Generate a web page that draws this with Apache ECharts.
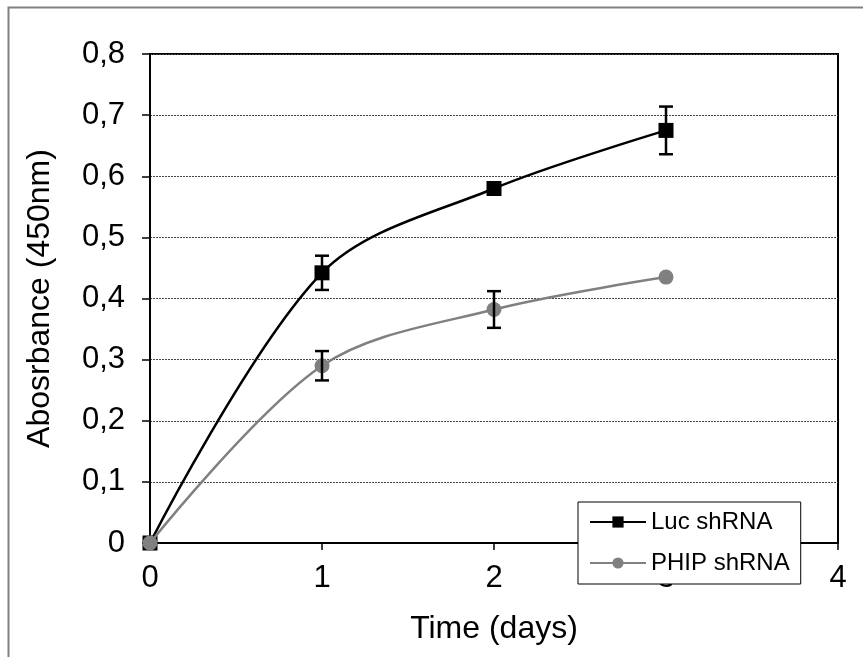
<!DOCTYPE html>
<html>
<head>
<meta charset="utf-8">
<script src="https://cdn.jsdelivr.net/npm/echarts@6/dist/echarts.min.js"></script>
<style>
  html, body { margin: 0; padding: 0; background: #fff; }
  #chart { width: 863px; height: 657px; }
</style>
</head>
<body>
<div id="chart"></div>
<script>
// Time points (days) and mean absorbance at 450 nm
const days = [0, 1, 2, 3];
const lucMean = [0, 0.442, 0.580, 0.675];
const lucErr = [0, 0.028, 0, 0.039];
const phipMean = [0, 0.290, 0.382, 0.435];
const phipErr = [0, 0.024, 0.030, 0];
const xTicks = [0, 1, 2, 3, 4];
const yTicks = [0, 0.1, 0.2, 0.3, 0.4, 0.5, 0.6, 0.7, 0.8];

const FONT = '"Liberation Sans", Arial, sans-serif';

function pairs(xs, ys) { return xs.map((x, i) => [x, ys[i]]); }
function errData(xs, ys, es) { return xs.map((x, i) => [x, ys[i] - es[i], ys[i] + es[i]]); }

// Vertical whisker with flat caps
function renderErr(params, api) {
  if (api.value(2) - api.value(1) <= 0) return null;
  const lo = api.coord([api.value(0), api.value(1)]);
  const hi = api.coord([api.value(0), api.value(2)]);
  const cap = 7;
  const style = { stroke: '#000', lineWidth: 2.5 };
  return {
    type: 'group',
    children: [
      { type: 'line', shape: { x1: lo[0], y1: lo[1], x2: hi[0], y2: hi[1] }, style },
      { type: 'line', shape: { x1: hi[0] - cap, y1: hi[1], x2: hi[0] + cap, y2: hi[1] }, style },
      { type: 'line', shape: { x1: lo[0] - cap, y1: lo[1], x2: lo[0] + cap, y2: lo[1] }, style }
    ]
  };
}

const chart = echarts.init(document.getElementById('chart'), null, { renderer: 'canvas' });
chart.setOption({
  animation: false,
  backgroundColor: '#fff',
  graphic: [{
    type: 'rect', left: 6, top: 5,
    shape: { width: 900, height: 700 },
    style: { fill: 'none', stroke: '#808080', lineWidth: 2 },
    silent: true
  }],
  grid: {
    left: 150, top: 54, right: 25, bottom: 114,
    show: true, borderColor: '#000', borderWidth: 2, backgroundColor: 'transparent'
  },
  xAxis: {
    type: 'value', min: xTicks[0], max: xTicks[xTicks.length - 1], interval: 1,
    name: 'Time (days)', nameLocation: 'middle', nameGap: 70,
    nameTextStyle: { fontFamily: FONT, fontSize: 32, color: '#000' },
    axisLine: { show: true, lineStyle: { color: '#000', width: 2 } },
    axisTick: { show: true, inside: false, length: 7, lineStyle: { color: '#000', width: 1.5 } },
    axisLabel: { fontFamily: FONT, fontSize: 31, color: '#000', margin: 20 },
    splitLine: { show: false }
  },
  yAxis: {
    type: 'value', min: yTicks[0], max: yTicks[yTicks.length - 1], interval: 0.1,
    name: 'Abosrbance (450nm)', nameLocation: 'middle', nameGap: 94, nameRotate: 90,
    nameTextStyle: { fontFamily: FONT, fontSize: 32, color: '#000' },
    axisLine: { show: true, lineStyle: { color: '#000', width: 2 } },
    axisTick: { show: true, inside: false, length: 8, lineStyle: { color: '#000', width: 1.5 } },
    axisLabel: {
      fontFamily: FONT, fontSize: 31, color: '#000', margin: 25,
      formatter: v => (Math.round(v * 10) / 10).toString().replace('.', ',')
    },
    splitLine: { show: true, lineStyle: { color: '#444', type: [2, 1], width: 1 } }
  },
  legend: {
    orient: 'vertical', left: 578, top: 502,
    data: ['Luc shRNA', 'PHIP shRNA'],
    backgroundColor: '#fff', borderColor: '#000', borderWidth: 1,
    padding: [8, 11, 9, 11], itemGap: 17, itemWidth: 56, itemHeight: 14,
    textStyle: { fontFamily: FONT, fontSize: 24, color: '#000' }
  },
  series: [
    {
      name: 'Luc shRNA', type: 'line', data: pairs(days, lucMean), smooth: 0.33,
      symbol: 'rect', symbolSize: 15,
      lineStyle: { color: '#000', width: 2.5 }, itemStyle: { color: '#000' }, z: 3
    },
    {
      name: 'Luc err', type: 'custom', renderItem: renderErr,
      data: errData(days, lucMean, lucErr), encode: { x: 0, y: [1, 2] }, z: 4
    },
    {
      name: 'PHIP shRNA', type: 'line', data: pairs(days, phipMean), smooth: 0.33,
      symbol: 'circle', symbolSize: 15,
      lineStyle: { color: '#808080', width: 2.5 }, itemStyle: { color: '#808080' }, z: 5
    },
    {
      name: 'PHIP err', type: 'custom', renderItem: renderErr,
      data: errData(days, phipMean, phipErr), encode: { x: 0, y: [1, 2] }, z: 6
    }
  ]
});
</script>
</body>
</html>
